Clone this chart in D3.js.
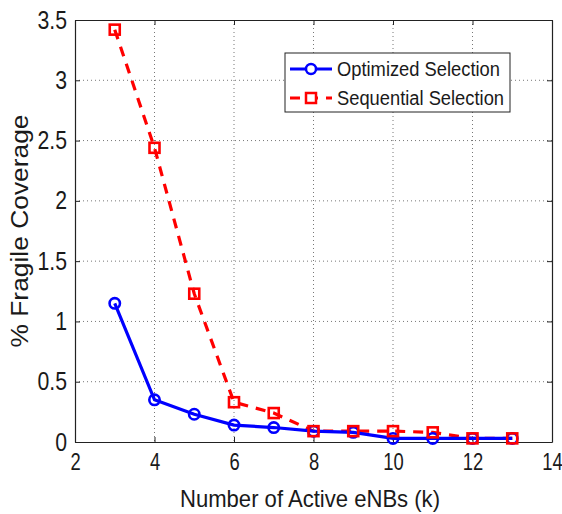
<!DOCTYPE html>
<html>
<head>
<meta charset="utf-8">
<script src="https://cdn.jsdelivr.net/npm/d3@7"></script>
<style>
  body { margin: 0; background: #fff; }
  text { font-family: "Liberation Sans", Arial, sans-serif; fill: #1a1a1a; }
</style>
</head>
<body>
<div id="chart"></div>
<script>
var kValues = [3, 4, 5, 6, 7, 8, 9, 10, 11, 12, 13]
var optimized = [1.15, 0.35, 0.23, 0.14, 0.12, 0.09, 0.08, 0.03, 0.03, 0.03, 0.03]
var sequential = [3.42, 2.44, 1.23, 0.33, 0.24, 0.09, 0.09, 0.09, 0.08, 0.03, 0.03]
var xTicks = [2, 4, 6, 8, 10, 12, 14]
var yTicks = [0, 0.5, 1, 1.5, 2, 2.5, 3, 3.5]
var seriesNames = ["Optimized Selection", "Sequential Selection"]

var W = 562, H = 514
var margin = { top: 20, right: 10, bottom: 72, left: 75 }
var width = W - margin.left - margin.right
var height = H - margin.top - margin.bottom

var svg = d3.select("#chart").append("svg")
    .attr("width", W).attr("height", H)

var g = svg.append("g").attr("transform", `translate(${margin.left},${margin.top})`)

var x = d3.scaleLinear().domain([2, 14]).range([0, width])
var y = d3.scaleLinear().domain([0, 3.5]).range([height, 0])

// squeeze text horizontally, like the narrow font of the original
function squeeze(sel, f) {
    sel.each(function () {
        var len = this.getComputedTextLength()
        d3.select(this).attr("textLength", len * f).attr("lengthAdjust", "spacingAndGlyphs")
    })
}

// grid
g.selectAll(".gx").data(xTicks.slice(1, -1)).enter().append("line")
    .attr("x1", d => x(d)).attr("x2", d => x(d))
    .attr("y1", 0).attr("y2", height)
    .attr("stroke", "#777").attr("stroke-width", 1).attr("stroke-dasharray", "1,3")
g.selectAll(".gy").data(yTicks.slice(1, -1)).enter().append("line")
    .attr("x1", 0).attr("x2", width)
    .attr("y1", d => y(d)).attr("y2", d => y(d))
    .attr("stroke", "#777").attr("stroke-width", 1).attr("stroke-dasharray", "1,3")

// axes
var xAxis = g.append("g").attr("transform", `translate(0,${height})`)
    .call(d3.axisBottom(x).tickValues(xTicks).tickSizeInner(-5).tickSizeOuter(0).tickPadding(10.5))
var yAxis = g.append("g")
    .call(d3.axisLeft(y).tickValues(yTicks).tickFormat(d3.format("")).tickSizeInner(-5).tickSizeOuter(0).tickPadding(8))
g.append("g").attr("transform", `translate(0,0)`)
    .call(d3.axisTop(x).tickValues(xTicks).tickSizeInner(-5).tickSizeOuter(0).tickFormat(""))
g.append("g").attr("transform", `translate(${width},0)`)
    .call(d3.axisRight(y).tickValues(yTicks).tickSizeInner(-5).tickSizeOuter(0).tickFormat(""))

g.selectAll(".domain").attr("stroke", "#222").attr("stroke-width", 1.2)
g.selectAll(".tick line").attr("stroke", "#222")
// tall, narrow digits like the original
xAxis.selectAll(".tick text").style("font-size", "20px").attr("fill", "#1a1a1a")
    .attr("transform", "scale(0.92,1.15)")
yAxis.selectAll(".tick text").style("font-size", "25px").attr("fill", "#1a1a1a").call(squeeze, 0.85)

// lines
var line = d3.line().x((d, i) => x(kValues[i])).y(d => y(d))

g.append("path").datum(sequential)
    .attr("fill", "none").attr("stroke", "#ff0000").attr("stroke-width", 3.2)
    .attr("stroke-dasharray", "10,8").attr("d", line)

g.append("path").datum(optimized)
    .attr("fill", "none").attr("stroke", "#0000ff").attr("stroke-width", 3.2)
    .attr("d", line)

g.selectAll(".opt").data(optimized).enter().append("circle")
    .attr("cx", (d, i) => x(kValues[i])).attr("cy", d => y(d)).attr("r", 5.2)
    .attr("fill", "none").attr("stroke", "#0000ff").attr("stroke-width", 2.6)

g.selectAll(".seq").data(sequential).enter().append("rect")
    .attr("x", (d, i) => x(kValues[i]) - 5).attr("y", d => y(d) - 5)
    .attr("width", 10).attr("height", 10)
    .attr("fill", "none").attr("stroke", "#ff0000").attr("stroke-width", 2.6)

// legend
var lg = svg.append("g").attr("transform", "translate(285,53)")
lg.append("rect").attr("width", 225).attr("height", 59)
    .attr("fill", "#fff").attr("stroke", "#222").attr("stroke-width", 1)

var ly = [16, 45]
lg.append("line").attr("x1", 5).attr("x2", 47).attr("y1", ly[0]).attr("y2", ly[0])
    .attr("stroke", "#0000ff").attr("stroke-width", 3.2)
lg.append("circle").attr("cx", 26).attr("cy", ly[0]).attr("r", 5)
    .attr("fill", "#fff").attr("stroke", "#0000ff").attr("stroke-width", 2.5)
lg.append("line").attr("x1", 5).attr("x2", 47).attr("y1", ly[1]).attr("y2", ly[1])
    .attr("stroke", "#ff0000").attr("stroke-width", 3.2).attr("stroke-dasharray", "10,8")
lg.append("rect").attr("x", 21).attr("y", ly[1] - 5).attr("width", 10).attr("height", 10)
    .attr("fill", "#fff").attr("stroke", "#ff0000").attr("stroke-width", 2.5)

lg.selectAll(".lt").data(seriesNames).enter().append("text")
    .attr("x", 52).attr("y", (d, i) => ly[i] + 7)
    .style("font-size", "19.5px")
    .attr("textLength", (d, i) => i === 0 ? 163 : 167).attr("lengthAdjust", "spacingAndGlyphs")
    .text(d => d)

// axis labels
svg.append("text").attr("x", 310).attr("y", 507)
    .attr("text-anchor", "middle").style("font-size", "24px")
    .attr("textLength", 260).attr("lengthAdjust", "spacingAndGlyphs")
    .text("Number of Active eNBs (k)")

svg.append("text").attr("transform", `translate(28,${margin.top + height / 2}) rotate(-90)`)
    .attr("text-anchor", "middle").style("font-size", "23px")
    .attr("textLength", 233).attr("lengthAdjust", "spacingAndGlyphs")
    .text("% Fragile Coverage")
</script>
</body>
</html>
